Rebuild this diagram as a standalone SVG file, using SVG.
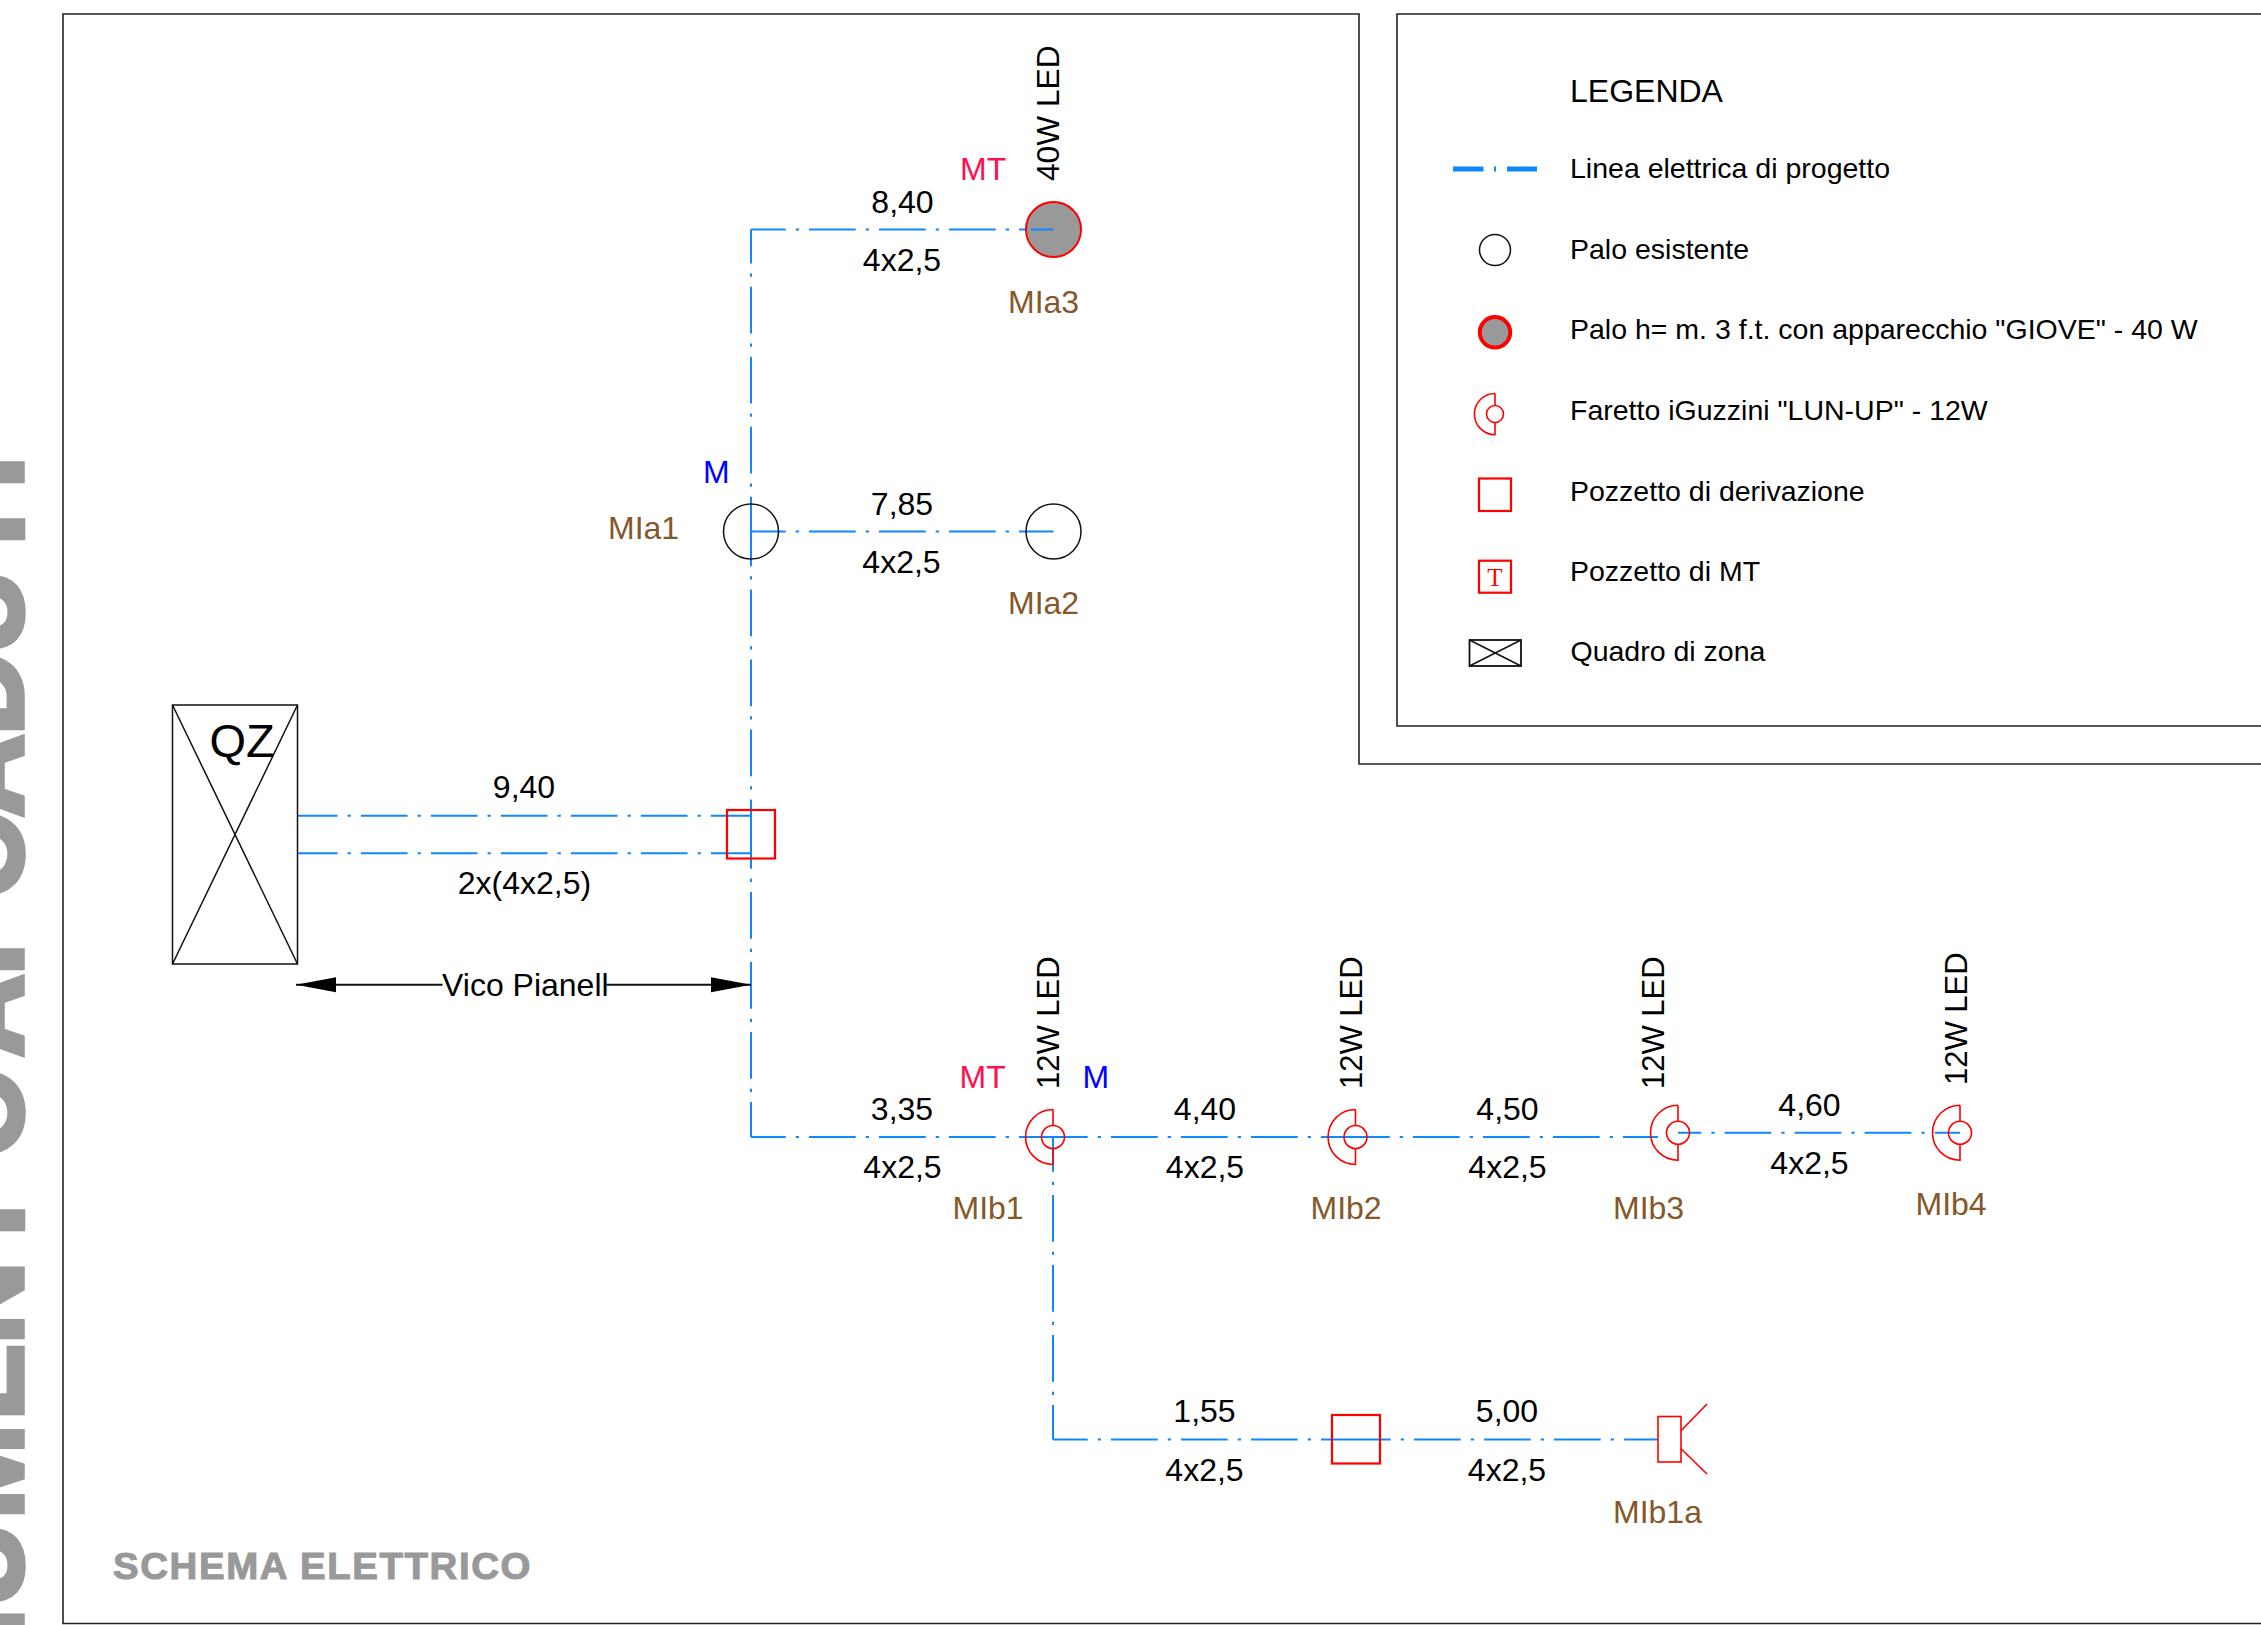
<svg xmlns="http://www.w3.org/2000/svg" width="2261" height="1625" viewBox="0 0 2261 1625">
<defs>
<marker id="ah" markerUnits="userSpaceOnUse" markerWidth="42" markerHeight="16" refX="40" refY="8" orient="auto"><path d="M0,0.5 L40,8 L0,15.5 Z" fill="#000"/></marker>
</defs>
<style>
text{font-family:"Liberation Sans",Arial,sans-serif;font-size:32px;fill:#000}
.mid{text-anchor:middle}
.brown{fill:#85582a}
.mt{fill:#ff0f4f}
.m{fill:#0000ff}
.leg{font-size:28.5px}
.led{font-size:31px}
.frame{fill:none;stroke:#222;stroke-width:1.6}
.blk{fill:none;stroke:#111;stroke-width:1.5}
.red{fill:none;stroke:#ff0000;stroke-width:1.6}
.redb{fill:none;stroke:#ff0000;stroke-width:2.2}
.w{fill:none;stroke:#0f87ff;stroke-width:2;stroke-dasharray:46.7 10 3.3 10}
.o12{stroke-dashoffset:12}
.big{font-size:114px;font-weight:bold;fill:#999;stroke:#999;stroke-width:5.5}
</style>
<rect width="2261" height="1625" fill="#fff"/>
<text class="big" transform="translate(21.5,0) rotate(-90)" x="-1875 -1780 -1691 -1606 -1519 -1420 -1344 -1255 -1157 -1080 -1057 -975 -930 -898 -817 -735 -653 -564 -488">MONUMENTO AI CADUTI</text>
<g id="frame">
<path class="frame" d="M2261,1623.5H63V14H1359V764H2261"/>
<path class="frame" d="M2261,14H1397V726H2261"/>
</g>
<g id="connectors">
<path class="w o12" d="M751,531.5V229.5"/>
<path class="w o12" d="M751,229.5H1053.5"/>
<path class="w o12" d="M751,531.5H1053.5"/>
<path class="w o12" d="M751,531.5V834"/>
<path class="w o12" d="M751,834V1137"/>
<path class="w o12" d="M751,1137H1053"/>
<path class="w o12" d="M1053,1137H1355"/>
<path class="w o12" d="M1355,1137H1658"/>
<path class="w" style="stroke-dashoffset:23.35" d="M1678,1132.7H1960"/>
<path class="w o12" d="M1053,1137V1439.5"/>
<path class="w o12" d="M1053,1439.5H1356"/>
<path class="w o12" d="M1356,1439.5H1658"/>
<path class="w" style="stroke-dashoffset:6.85" d="M297.7,815.7H751"/>
<path class="w" style="stroke-dashoffset:6.85" d="M297.7,853.3H751"/>
<path class="blk" style="stroke-width:2" marker-end="url(#ah)" d="M442.5,984.7H296"/>
<path class="blk" style="stroke-width:2" marker-end="url(#ah)" d="M606.5,984.7H751"/>
</g>
<g id="QZ">
<rect class="blk" x="172.5" y="705" width="125" height="259"/>
<path class="blk" d="M172.5,705L297.5,964M297.5,705L172.5,964"/>
<text x="209.5" y="756.5" style="font-size:47px">QZ</text>
</g>
<g id="pozzetto-1"><rect class="redb" x="727" y="810" width="48" height="48.5"/></g>
<g id="pozzetto-2"><rect class="redb" x="1332" y="1415" width="48" height="48.5"/></g>
<g id="MIa3">
<circle cx="1053.5" cy="229.5" r="27.5" fill="#999" stroke="#ff0000" stroke-width="2"/>
<path d="M1031,229.5H1053.5" stroke="#0f87ff" stroke-width="2"/>
<text x="1008" y="312.5" class="brown">MIa3</text>
<text x="960" y="180" class="mt">MT</text>
<text class="led" transform="translate(1059,181) rotate(-90)" style="font-size:31.7px">40W LED</text>
</g>
<g id="MIa1">
<circle class="blk" cx="751" cy="531.5" r="27.5"/>
<text x="608" y="538.5" class="brown">MIa1</text>
<text x="703" y="482.5" class="m">M</text>
</g>
<g id="MIa2">
<circle class="blk" cx="1053.5" cy="531.5" r="27.5"/>
<text x="1008" y="614" class="brown">MIa2</text>
</g>
<g id="MIb1">
<path class="red" d="M1053,1109.5A27.5,27.5 0 0 0 1053,1164.5V1148.5M1053,1125.5V1109.5"/>
<circle class="red" cx="1053" cy="1137" r="11.5"/>
<text x="952.5" y="1219" class="brown">MIb1</text>
<text x="959.5" y="1087.5" class="mt">MT</text>
<text x="1082.5" y="1087.5" class="m">M</text>
<text class="led" transform="translate(1059,1089) rotate(-90)">12W LED</text>
</g>
<g id="MIb2">
<path class="red" d="M1355.5,1109.5A27.5,27.5 0 0 0 1355.5,1164.5V1148.5M1355.5,1125.5V1109.5"/>
<circle class="red" cx="1355.5" cy="1137" r="11.5"/>
<text x="1310.5" y="1219" class="brown">MIb2</text>
<text class="led" transform="translate(1362,1089) rotate(-90)">12W LED</text>
</g>
<g id="MIb3">
<path class="red" d="M1678,1105.2A27.5,27.5 0 0 0 1678,1160.2V1144.2M1678,1121.2V1105.2"/>
<circle class="red" cx="1678" cy="1132.7" r="11.5"/>
<text x="1613" y="1219" class="brown">MIb3</text>
<text class="led" transform="translate(1664,1089) rotate(-90)">12W LED</text>
</g>
<g id="MIb4">
<path class="red" d="M1960,1105.2A27.5,27.5 0 0 0 1960,1160.2V1144.2M1960,1121.2V1105.2"/>
<circle class="red" cx="1960" cy="1132.7" r="11.5"/>
<text x="1915.5" y="1215" class="brown">MIb4</text>
<text class="led" transform="translate(1967,1085) rotate(-90)">12W LED</text>
</g>
<g id="MIb1a">
<rect x="1658" y="1416.5" width="23" height="45.5" fill="none" stroke="#ff0000" stroke-width="1.6"/>
<path class="red" d="M1681,1430.7L1707,1404M1681,1448.7L1707,1474"/>
<text x="1613" y="1522.5" class="brown">MIb1a</text>
</g>
<g id="cable-labels">
<text x="902.5" y="212.5" class="mid">8,40</text>
<text x="902" y="271" class="mid">4x2,5</text>
<text x="902" y="514.5" class="mid">7,85</text>
<text x="901.5" y="572.5" class="mid">4x2,5</text>
<text x="524" y="797.5" class="mid">9,40</text>
<text x="524.5" y="893.5" class="mid">2x(4x2,5)</text>
<text x="442" y="996">Vico Pianell</text>
<text x="902" y="1120" class="mid">3,35</text>
<text x="902.5" y="1178" class="mid">4x2,5</text>
<text x="1205" y="1120" class="mid">4,40</text>
<text x="1205" y="1178" class="mid">4x2,5</text>
<text x="1507.5" y="1120" class="mid">4,50</text>
<text x="1507.5" y="1178" class="mid">4x2,5</text>
<text x="1809.5" y="1115.5" class="mid">4,60</text>
<text x="1809.5" y="1174" class="mid">4x2,5</text>
<text x="1204.5" y="1421.5" class="mid">1,55</text>
<text x="1204.5" y="1481" class="mid">4x2,5</text>
<text x="1507" y="1421.5" class="mid">5,00</text>
<text x="1507" y="1481" class="mid">4x2,5</text>
</g>
<text x="113" y="1579" textLength="419" lengthAdjust="spacingAndGlyphs" style="font-size:36px;font-weight:bold;letter-spacing:1.5px;fill:#999;stroke:#999;stroke-width:1">SCHEMA ELETTRICO</text>
<g id="legend">
<text x="1570" y="102">LEGENDA</text>
<g id="leg-line">
<path d="M1453,169H1483.5M1494,169H1496M1507,169H1537" fill="none" stroke="#0f87ff" stroke-width="5"/>
<text x="1570" y="178" class="leg">Linea elettrica di progetto</text>
</g>
<g id="leg-palo">
<circle class="blk" cx="1495" cy="250" r="15.5"/>
<text x="1570" y="259" class="leg">Palo esistente</text>
</g>
<g id="leg-palo-giove">
<circle cx="1495" cy="332.3" r="15.2" fill="#999" stroke="#ff0000" stroke-width="4"/>
<text x="1570" y="339" class="leg">Palo h= m. 3 f.t. con apparecchio "GIOVE" - 40 W</text>
</g>
<g id="leg-faretto">
<path class="red" d="M1495,393.5A20.6,20.6 0 0 0 1495,434.7V422.5M1495,405.5V393.5"/>
<circle class="red" cx="1495" cy="414" r="8.5"/>
<text x="1570" y="420" class="leg">Faretto iGuzzini "LUN-UP" - 12W</text>
</g>
<g id="leg-pozzetto">
<rect class="redb" x="1479" y="478.5" width="32" height="32.5"/>
<text x="1570" y="501" class="leg">Pozzetto di derivazione</text>
</g>
<g id="leg-pozzetto-mt">
<rect class="redb" x="1479" y="560.7" width="32" height="32"/>
<text x="1495" y="585.7" text-anchor="middle" style="font-family:'Liberation Serif',serif;font-size:25px;fill:#ff0000">T</text>
<text x="1570" y="581" class="leg">Pozzetto di MT</text>
</g>
<g id="leg-quadro">
<rect class="blk" style="stroke-width:1.8" x="1469.5" y="640" width="51.5" height="26"/>
<path class="blk" d="M1469.5,640L1521,666M1521,640L1469.5,666"/>
<text x="1570.5" y="661" class="leg">Quadro di zona</text>
</g>
</g>
</svg>
